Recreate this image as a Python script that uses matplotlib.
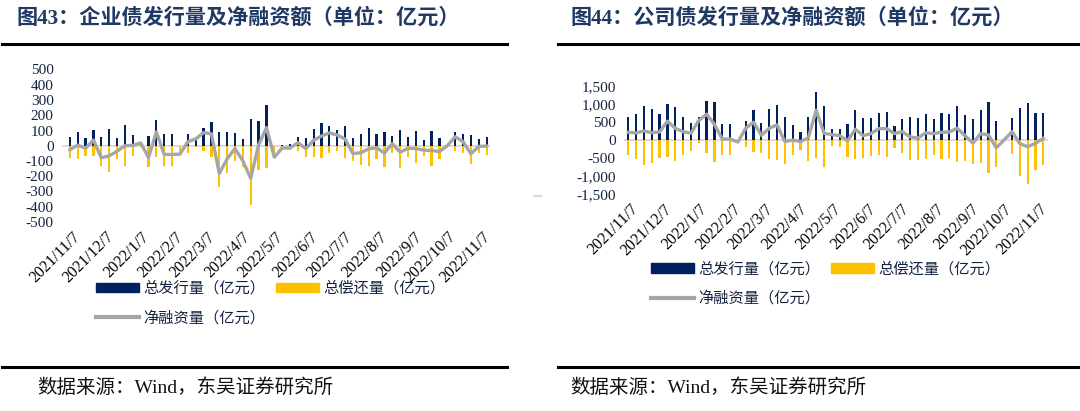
import matplotlib
matplotlib.use('Agg')
import matplotlib.pyplot as plt
from matplotlib.lines import Line2D
from matplotlib.patches import Patch
from matplotlib.ticker import FuncFormatter, MultipleLocator
import pandas as pd

plt.rcParams['axes.unicode_minus'] = False

# ---------------- data ----------------
weeks = pd.date_range('2021-11-05', periods=54, freq='7D')
tick_labels = ['2021/11/7', '2021/12/7', '2022/1/7', '2022/2/7', '2022/3/7', '2022/4/7',
               '2022/5/7', '2022/6/7', '2022/7/7', '2022/8/7', '2022/9/7', '2022/10/7', '2022/11/7']

# 图43 企业债
ent_issue = [57, 92, 50, 103, 55, 108, 50, 134, 68, 24, 64, 167, 77, 77, 0, 77, 55, 119, 156, 88,
             92, 81, 42, 174, 165, 268, 0, 5, 10, 55, 53, 108, 147, 130, 103, 127, 48, 77, 114, 77,
             90, 64, 103, 55, 97, 35, 99, 48, 0, 92, 77, 68, 42, 57]
ent_repay = [-83, -88, -66, -66, -134, -174, -86, -134, -66, -5, -141, -77, -134, -134, -55, -50, -11, -33, -77, -270,
             -178, -99, -141, -387, -160, -149, -75, -20, -25, -35, -72, -72, -83, -46, -33, -83, -99, -123, -134, -90,
             -138, -50, -145, -72, -116, -64, -130, -86, 0, -33, -50, -121, -46, -59]
ent_net = [-26, 4, -16, 37, -79, -66, -36, 0, 2, 19, -77, 90, -57, -57, -55, 27, 44, 86, 79, -182,
           -86, -18, -99, -213, 5, 119, -75, -15, -15, 20, -19, 36, 64, 84, 70, 44, -51, -46, -20, -13,
           -48, 14, -42, -17, -19, -29, -31, -38, 0, 59, 27, -53, -4, -2]

# 图44 公司债
cor_issue = [630, 722, 944, 852, 713, 991, 898, 648, 481, 630, 1083, 1037, 444, 444, 0, 528, 824, 481, 852, 972,
             630, 417, 231, 639, 1333, 944, 306, 306, 444, 833, 611, 611, 741, 778, 389, 583, 639, 611, 731, 583,
             741, 713, 944, 704, 583, 824, 1046, 528, 0, 620, 880, 1019, 741, 741]
cor_repay = [-417, -528, -694, -648, -491, -472, -574, -417, -296, -93, -370, -602, -417, -417, -56, -204, -333, -352, -528, -556,
             -676, -417, -278, -574, -509, -759, -157, -185, -463, -537, -491, -435, -426, -463, -213, -352, -556, -556, -528, -407,
             -528, -491, -620, -583, -667, -648, -907, -741, 0, -389, -981, -1204, -833, -694]
cor_net = [213, 194, 250, 204, 222, 519, 324, 231, 185, 537, 713, 435, 27, 27, -56, 324, 491, 129, 324, 416,
           -46, 0, -47, 65, 824, 185, 149, 121, -19, 296, 120, 176, 315, 315, 176, 231, 83, 55, 203, 176,
           213, 222, 324, 121, -84, 176, 139, -213, 0, 231, -101, -185, -92, 47]

label_issue = '总发行量（亿元）'
label_repay = '总偿还量（亿元）'
label_net = '净融资量（亿元）'
title_left = '图43：企业债发行量及净融资额（单位：亿元）'
title_right = '图44：公司债发行量及净融资额（单位：亿元）'
source_text = '数据来源：Wind，东吴证券研究所'

# ---------------- style ----------------
NAVY = '#002060'
GOLD = '#FFC000'
GRAY = '#A6A6A6'
ZERO = '#D9D9D9'
TXT = '#14233f'
SERIF = ['Liberation Serif', 'Noto Sans CJK SC']
CJK = ['Noto Sans CJK SC', 'DejaVu Sans']

W, H = 1080, 411
fig = plt.figure(figsize=(W / 100, H / 100), dpi=100)


def rect(x0, x1, ytop, ybot):
    return [x0 / W, 1 - ybot / H, (x1 - x0) / W, (ybot - ytop) / H]


tick_dates = pd.to_datetime(tick_labels, format='%Y/%m/%d')


def panel(r, issue, repay, net, ylim, step, fmt, xpad, leg_x, leg_y):
    ax = fig.add_axes(r)
    ax.axhline(0, color=ZERO, lw=1.3, zorder=1)
    ax.bar(weeks, issue, width=2.0, color=NAVY, zorder=2, label=label_issue)
    ax.bar(weeks, repay, width=2.0, color=GOLD, zorder=2, label=label_repay)
    ax.plot(weeks, net, color=GRAY, lw=2.4, zorder=3, label=label_net)
    ax.set_ylim(*ylim)
    ax.yaxis.set_major_locator(MultipleLocator(step))
    ax.yaxis.set_major_formatter(FuncFormatter(fmt))
    ax.set_xlim(weeks[0] - pd.Timedelta(days=xpad[0]), weeks[-1] + pd.Timedelta(days=xpad[1]))
    ax.set_xticks(tick_dates)
    ax.set_xticklabels(tick_labels)
    for s in ax.spines.values():
        s.set_visible(False)
    ax.tick_params(length=0)
    ax.tick_params(axis='y', pad=6)
    ax.tick_params(axis='x', pad=5)
    for lab in ax.get_yticklabels():
        lab.set_fontfamily(SERIF)
        lab.set_fontsize(11)
        lab.set_color(TXT)
    for lab in ax.get_xticklabels():
        lab.set_fontfamily(SERIF)
        lab.set_fontsize(11.5)
        lab.set_color('black')
        lab.set_rotation(45)
        lab.set_ha('right')
        lab.set_rotation_mode('anchor')
    ax.patch.set_alpha(0)
    handles = [Patch(color=NAVY), Line2D([], [], color=GRAY, lw=3), Patch(color=GOLD)]
    labels = [label_issue, label_net, label_repay]
    leg = fig.legend(handles, labels, ncol=2, loc='center left',
                     bbox_to_anchor=(leg_x / W, 1 - leg_y / H), frameon=False,
                     prop={'family': CJK, 'size': 11}, handlelength=2.8, handleheight=0.55,
                     handletextpad=0.3, columnspacing=0.7, labelspacing=0.8,
                     borderpad=0, borderaxespad=0)
    for t in leg.get_texts():
        t.set_color(TXT)
    return ax


panel(rect(62, 490, 69.5, 222), ent_issue, ent_repay, ent_net, (-500, 500), 100,
      lambda v, p: f'{int(round(v))}', (7.0, 3.0), 96, 303)
panel(rect(624, 1048, 85.7, 194.3), cor_issue, cor_repay, cor_net, (-1500, 1500), 500,
      lambda v, p: f'{int(round(v)):,}', (3.8, 4.2), 651, 283.5)

# titles
for x, t in [(17, title_left), (570, title_right)]:
    fig.text(x / W, 1 - 18 / H, t, fontsize=15.2, fontweight='bold', color='#1f3864',
             family=SERIF, va='center', ha='left')

# rules
for x0, x1 in [(2, 507), (558, 1080)]:
    fig.add_artist(Line2D([x0 / W, x1 / W], [1 - 44 / H] * 2, color='black', lw=2.2))
    fig.add_artist(Line2D([x0 / W, x1 / W], [1 - 367 / H] * 2, color='black', lw=2.2))

# sources
for x in [37, 570]:
    fig.text(x / W, 1 - 388 / H, source_text, fontsize=14, color='#111111',
             family=SERIF, va='center', ha='left')

# small stray mark
fig.add_artist(Line2D([534 / W, 541 / W], [1 - 196 / H] * 2, color=ZERO, lw=1.5))

fig.savefig('out.png', dpi=100)
